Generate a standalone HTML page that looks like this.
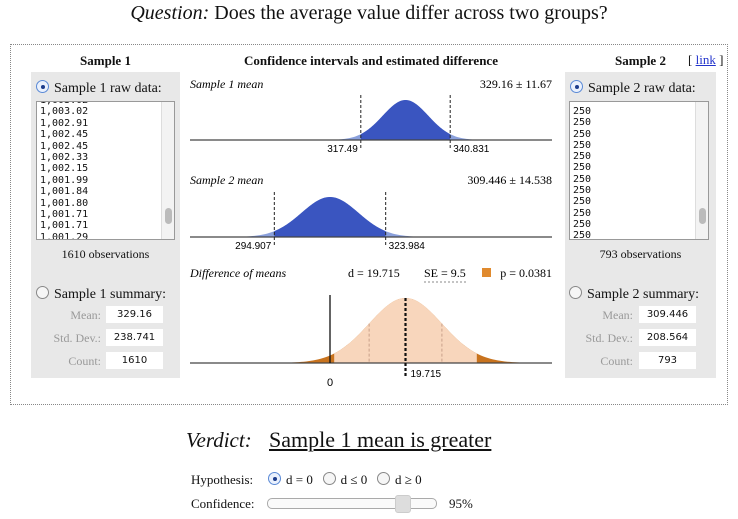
<!DOCTYPE html>
<html><head><meta charset="utf-8">
<style>
body{margin:0;width:738px;height:519px;background:#fff;position:relative;overflow:hidden;font-family:"Liberation Serif",serif;color:#111}
.a{position:absolute;white-space:nowrap}
.panel{position:absolute;background:#e8e8e8}
.ta{position:absolute;background:#fff;border:1px solid #999;font-family:"DejaVu Sans Mono","Liberation Mono",monospace;font-size:10px;line-height:11.3px;padding:0 0 0 3px;overflow:hidden;box-sizing:border-box}
.sb{position:absolute;right:0;top:0;bottom:0;width:12px;background:#f3f3f3;border-left:1px solid #ddd}
.thumb{position:absolute;right:2px;width:7px;height:16px;background:#bbb;border-radius:4px}
.radio{display:inline-block;width:11px;height:11px;border:1px solid #888;border-radius:50%;background:#f6f6f6;vertical-align:-1px;margin-right:5px;position:relative}
.radio.on{border-color:#5b8ad6;background:#eaf1fd}
.radio.on::after{content:"";position:absolute;left:3.5px;top:3.5px;width:4px;height:4px;border-radius:50%;background:#1c3c8c}
.lbl{position:absolute;color:#999;font-size:12px;text-align:right;width:70px}
.inp{position:absolute;background:#fff;font-family:"DejaVu Sans","Liberation Sans",sans-serif;font-size:10px;text-align:center;width:57px;height:17px;line-height:17px}
</style></head><body>
<div class="a" style="left:0;width:738px;text-align:center;top:2px;font-size:20px"><i>Question:</i> Does the average value differ across two groups?</div>
<div class="a" style="left:10px;top:44px;width:716px;height:359px;border:1px dotted #888"></div>

<div class="a" style="left:31px;width:149px;text-align:center;top:53px;font-weight:bold;font-size:13px">Sample 1</div>
<div class="panel" style="left:31px;top:72px;width:149px;height:306px"></div>
<div class="a" style="left:36px;top:80px;font-size:14px"><span class="radio on"></span>Sample 1 raw data:</div>
<div class="ta" style="left:36px;top:101px;width:139px;height:139px;line-height:11.4px;padding-top:0">
<div style="margin-top:-7px">1,003.02<br>1,003.02<br>1,002.91<br>1,002.45<br>1,002.45<br>1,002.33<br>1,002.15<br>1,001.99<br>1,001.84<br>1,001.80<br>1,001.71<br>1,001.71<br>1,001.29</div>
<div class="sb"><div class="thumb" style="top:106px"></div></div></div>
<div class="a" style="left:31px;width:149px;text-align:center;top:247px;font-size:12px">1610 observations</div>
<div class="a" style="left:36px;top:286px;font-size:14px"><span class="radio"></span>Sample 1 summary:</div>
<div class="lbl" style="left:31px;top:308px">Mean:</div>
<div class="inp" style="left:106px;top:306px">329.16</div>
<div class="lbl" style="left:31px;top:331px">Std. Dev.:</div>
<div class="inp" style="left:106px;top:329px">238.741</div>
<div class="lbl" style="left:31px;top:354px">Count:</div>
<div class="inp" style="left:106px;top:352px">1610</div>

<div class="a" style="left:565px;width:151px;text-align:center;top:53px;font-weight:bold;font-size:13px">Sample 2</div>
<div class="a" style="left:688px;top:52px;font-size:13px">[ <u style="color:#2233cc">link</u> ]</div>
<div class="panel" style="left:565px;top:72px;width:151px;height:306px"></div>
<div class="a" style="left:570px;top:80px;font-size:14px"><span class="radio on"></span>Sample 2 raw data:</div>
<div class="ta" style="left:569px;top:101px;width:140px;height:139px">
<div style="margin-top:4px">250<br>250<br>250<br>250<br>250<br>250<br>250<br>250<br>250<br>250<br>250<br>250</div>
<div class="sb"><div class="thumb" style="top:106px"></div></div></div>
<div class="a" style="left:565px;width:151px;text-align:center;top:247px;font-size:12px">793 observations</div>
<div class="a" style="left:569px;top:286px;font-size:14px"><span class="radio"></span>Sample 2 summary:</div>
<div class="lbl" style="left:563px;top:308px">Mean:</div>
<div class="inp" style="left:639px;top:306px">309.446</div>
<div class="lbl" style="left:563px;top:331px">Std. Dev.:</div>
<div class="inp" style="left:639px;top:329px">208.564</div>
<div class="lbl" style="left:563px;top:354px">Count:</div>
<div class="inp" style="left:639px;top:352px">793</div>

<div class="a" style="left:190px;width:362px;text-align:center;top:53px;font-weight:bold;font-size:13px">Confidence intervals and estimated difference</div>
<svg id="chart" style="position:absolute;left:0;top:0" width="738" height="519"></svg>

<div class="a" style="left:186px;top:428px;font-size:21px"><i>Verdict:</i></div>
<div class="a" style="left:269px;top:427px;font-size:22px;text-decoration:underline">Sample 1 mean is greater</div>
<div class="a" style="left:191px;top:472px;font-size:13px">Hypothesis:</div>
<div class="a" style="left:268px;top:472px;font-size:13px"><span class="radio on"></span>d = 0 &nbsp;&nbsp;<span class="radio"></span>d ≤ 0 &nbsp;&nbsp;<span class="radio"></span>d ≥ 0</div>
<div class="a" style="left:191px;top:496px;font-size:13px">Confidence:</div>
<div class="a" style="left:267px;top:498px;width:168px;height:9px;border:1px solid #aaa;border-radius:5px;background:#fafafa"></div>
<div class="a" style="left:395px;top:495px;width:14px;height:16px;border-radius:3px;background:#ddd;border:1px solid #ccc"></div>
<div class="a" style="left:449px;top:496px;font-size:13px">95%</div>

<script>
const means = [329.16, 309.446];
const halfWidths = [11.67, 14.538];
const meanLabels = ["329.16 ± 11.67", "309.446 ± 14.538"];
const lowLabels = ["317.49", "294.907"];
const highLabels = ["340.831", "323.984"];
const diff = 19.715;
const se = 9.5;
const pValue = 0.0381;

const svg = document.getElementById('chart');
const NS = 'http://www.w3.org/2000/svg';
function mk(tag, attrs, txt){const e=document.createElementNS(NS,tag);for(const k in attrs)e.setAttribute(k,attrs[k]);if(txt!==undefined)e.textContent=txt;svg.appendChild(e);return e;}
const PX = 3.83;
const xS = v => 405.5 + (v - 329.16) * PX;
const xD = v => 330 + v * PX;
const X0 = 190, X1 = 552;
const pdf = z => Math.exp(-z*z/2);
function curve(xf, mu, sd, base, h, a, b){
  let d = `M${xf(a)},${base}`;
  for(let i=0;i<=120;i++){const v=a+(b-a)*i/120;d+=` L${xf(v).toFixed(2)},${(base-h*pdf((v-mu)/sd)).toFixed(2)}`;}
  return d+` L${xf(b)},${base} Z`;
}
const bases=[140,237], labY=[84,180], names=["Sample 1 mean","Sample 2 mean"];
for(let s=0;s<2;s++){
  const mu=means[s], hw=halfWidths[s], sd=hw/1.96, base=bases[s];
  let t=mk('text',{x:X0,y:labY[s]+4,'font-size':12,'font-style':'italic','font-family':'Liberation Serif, serif'},names[s]);
  
  
  t=mk('text',{x:X1,y:labY[s]+4,'font-size':12,'text-anchor':'end','font-family':'Liberation Serif, serif'},meanLabels[s]);
  
  
  let p=mk('path',{d:curve(xS,mu,sd,base,40,mu-4*sd,mu+4*sd),fill:'#8aa0dc'});
  
  
  p=mk('path',{d:curve(xS,mu,sd,base,40,mu-hw,mu+hw),fill:'#3a55c0'});
  
  
  let l=mk('line',{x1:X0,x2:X1,y1:base,y2:base,stroke:'#444','stroke-width':1.3});
  
  
  [mu-hw,mu+hw].forEach((v,i)=>{
    const ln=mk('line',{x1:xS(v),x2:xS(v),y1:base-45,y2:base+10,stroke:'#222','stroke-dasharray':'3,2'});
    
    
    const tx=mk('text',{x:xS(v)+(i?3:-3),y:base+12,'font-size':10,'text-anchor':i?'start':'end','font-family':'Liberation Sans, sans-serif'},i?highLabels[s]:lowLabels[s]);
    
    
  });
}
// difference
let t=mk('text',{x:X0,y:277,'font-size':12,'font-style':'italic','font-family':'Liberation Serif, serif'},'Difference of means');


t=mk('text',{x:348,y:277,'font-size':12,'font-family':'Liberation Serif, serif'},'d = '+diff);


t=mk('text',{x:424,y:277,'font-size':12,'font-family':'Liberation Serif, serif'},'SE = '+se);


let u=mk('line',{x1:424,x2:468,y1:282,y2:282,stroke:'#888','stroke-dasharray':'2,2'});


let r=mk('rect',{x:482,y:268,width:9,height:9,fill:'#e08a2e'});


t=mk('text',{x:X1,y:277,'font-size':12,'text-anchor':'end','font-family':'Liberation Serif, serif'},'p = '+pValue);


const dBase=363, dH=65, crit=1.96*se;
let p=mk('path',{d:curve(xD,diff,se,dBase,dH,diff-4*se,diff+4*se),fill:'#c8731e'});


p=mk('path',{d:curve(xD,diff,se,dBase,dH,diff-crit,diff+crit),fill:'#f8d6bc'});


[diff-se,diff+se].forEach((v,i)=>{
  const ln=mk('line',{x1:xD(v),x2:xD(v),y1:dBase-dH*pdf(1),y2:dBase,stroke:'#c9a08a','stroke-dasharray':'3,2'});
  
  
});
let l=mk('line',{x1:X0,x2:X1,y1:dBase,y2:dBase,stroke:'#444','stroke-width':1.3});


l=mk('line',{x1:xD(0),x2:xD(0),y1:295,y2:dBase,stroke:'#111','stroke-width':1.3});


l=mk('line',{x1:xD(diff),x2:xD(diff),y1:dBase-dH,y2:dBase+14,stroke:'#111','stroke-width':2.2,'stroke-dasharray':'3,2'});


t=mk('text',{x:xD(0),y:386,'font-size':11,'text-anchor':'middle','font-family':'Liberation Sans, sans-serif'},'0');


t=mk('text',{x:xD(diff)+5,y:377,'font-size':10,'font-family':'Liberation Sans, sans-serif'},String(diff));


</script>
</body></html>
